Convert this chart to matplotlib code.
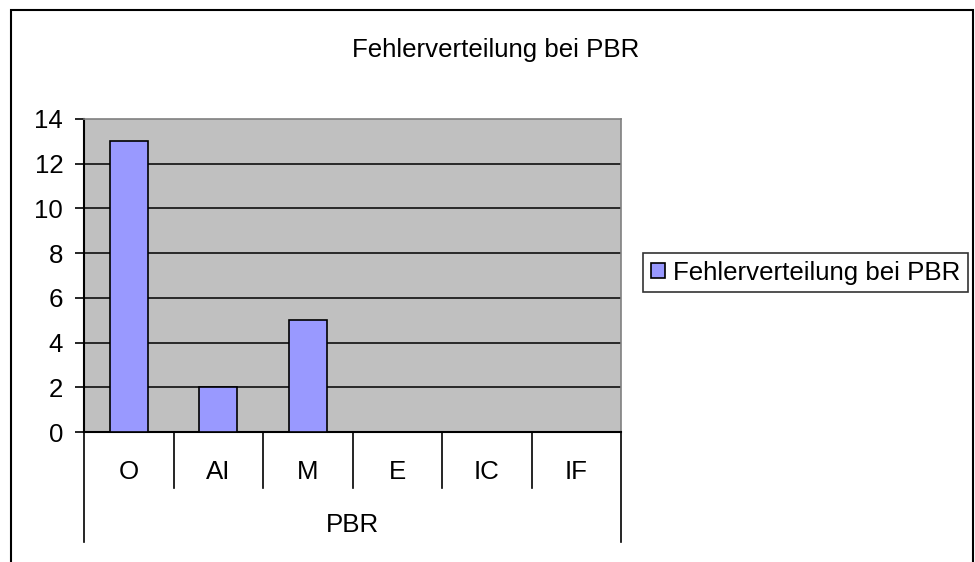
import matplotlib
matplotlib.use("Agg")
import matplotlib.pyplot as plt
from matplotlib.patches import Rectangle

categories = ["O", "AI", "M", "E", "IC", "IF"]
values = [13, 2, 5, 0, 0, 0]
group_label = "PBR"
series_name = "Fehlerverteilung bei PBR"
title = "Fehlerverteilung bei PBR"
yticks = [0, 2, 4, 6, 8, 10, 12, 14]

plt.rcParams["font.family"] = ["Liberation Sans", "DejaVu Sans"]
fs = 18.6

W, H = 975, 562
fig = plt.figure(figsize=(W / 100, H / 100), dpi=100)

# outer chart frame (bottom edge runs off the picture)
fig.patches.append(Rectangle((11 / W, -0.1), (973 - 11) / W, 1.1 - 10 / H,
                             transform=fig.transFigure, fill=False,
                             edgecolor="black", lw=1.5))

left, right, top, bottom = 84, 621, 119, 432
ax = fig.add_axes([left / W, 1 - bottom / H, (right - left) / W, (bottom - top) / H])
ax.set_facecolor("#c0c0c0")

x = range(len(categories))
ax.bar(x, values, width=0.42, color="#9999ff", edgecolor="black", lw=1.2,
       label=series_name, zorder=3)

ax.set_xlim(-0.5, len(categories) - 0.5)
ax.set_ylim(0, 14)
ax.set_yticks(yticks)
ax.tick_params(axis="y", labelsize=fs, length=6.5, width=1.2, pad=8.5)
ax.set_xticks([])
for v in yticks[1:-1]:
    ax.axhline(v, color="black", lw=1.1, zorder=2)

for s in ["top", "right"]:
    ax.spines[s].set_color("#808080")
    ax.spines[s].set_linewidth(1.2)
for s in ["left", "bottom"]:
    ax.spines[s].set_color("black")
    ax.spines[s].set_linewidth(1.5)

# two-level category axis
tr = ax.get_xaxis_transform()
short_y = -(488 - bottom) / (bottom - top)
long_y = -(542 - bottom) / (bottom - top)
for i in range(len(categories) + 1):
    xb = i - 0.5
    yb = long_y if i in (0, len(categories)) else short_y
    ax.plot([xb, xb], [0, yb], color="black", lw=1.2, transform=tr, clip_on=False)
lab_y = -(472 - bottom) / (bottom - top)
for i, c in enumerate(categories):
    ax.text(i, lab_y, c, transform=tr, ha="center", va="center", fontsize=fs)
grp_y = -(525 - bottom) / (bottom - top)
ax.text((len(categories) - 1) / 2, grp_y, group_label, transform=tr,
        ha="center", va="center", fontsize=fs)

fig.text(496 / W, 1 - 50 / H, title, ha="center", va="center", fontsize=fs)

leg = ax.legend(loc="upper left", bbox_to_anchor=(643 / W, 1 - 253 / H),
                bbox_transform=fig.transFigure, borderaxespad=0, fontsize=fs,
                frameon=True, fancybox=False, handlelength=0.55, handleheight=0.55,
                handletextpad=0.3, borderpad=0.3)
leg.get_frame().set_edgecolor("black")
leg.get_frame().set_linewidth(1.2)

fig.savefig("out.png", dpi=100)
